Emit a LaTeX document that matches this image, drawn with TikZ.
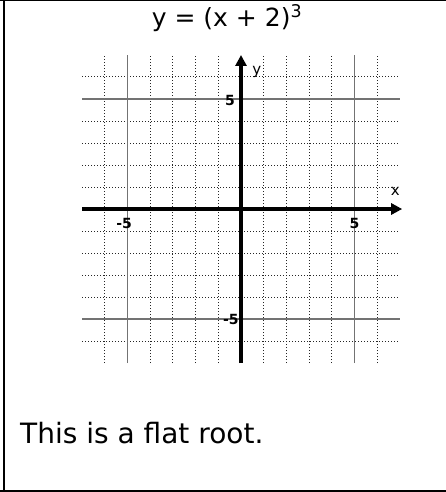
\documentclass[tikz,border=0pt]{standalone}
\usepackage{fontspec}
\setmainfont{DejaVu Sans}
\usetikzlibrary{arrows.meta}
\tikzset{
  frameline/.style={line width=2pt,black},
  minorgrid/.style={line width=1pt,black!85,dotted},
  majorgrid/.style={line width=1.5pt,black!55},
  axisline/.style={line width=3.5pt,black,-{Triangle[length=11pt,width=11pt]}},
  ticklab/.style={font=\fontsize{14}{16}\selectfont\bfseries,inner sep=0pt},
}
\begin{document}
\begin{tikzpicture}[x=1pt,y=-1pt]
\useasboundingbox (0,0) rectangle (446,492);
% frame
\draw[line width=1pt] (0,0.5) -- (446,0.5);
\draw[frameline] (4,0) -- (4,492);
\draw[frameline] (0,491) -- (446,491);
% title
\node[anchor=base,inner sep=0pt,font=\fontsize{25}{30}\selectfont] (title) at (227,27) {y = (x + 2)\textsuperscript{3}};
% grid
\begin{scope}[shift={(241,209)},x=22.7pt,y=22pt]
  \foreach \i in {-6,-4,-3,-2,-1,1,2,3,4,6}{
    \draw[minorgrid] (\i,-7) -- (\i,7);
    \draw[minorgrid] (-7,\i) -- (7,\i);
  }
  \foreach \i in {-5,5}{
    \draw[majorgrid] (\i,-7) -- (\i,7);
    \draw[majorgrid] (-7,\i) -- (7,\i);
  }
  \coordinate (xs) at (-7,0);
  \coordinate (xe) at (7.1,0);
  \coordinate (ys) at (0,-7);
  \coordinate (ye) at (0,7);
  \draw[axisline] (xs) -- (xe);
  \draw[axisline] (ys) -- (ye);
  \node[ticklab] (xm5) at (-5.15,-0.68) {-5};
  \node[ticklab] (xp5) at (5.0,-0.65) {5};
  \node[ticklab] (yp5) at (-0.48,4.95) {5};
  \node[ticklab] (ym5) at (-0.45,-5.0) {-5};
  \node[ticklab,font=\fontsize{15}{17}\selectfont] (xl) at (6.8,0.8) {x};
  \node[ticklab,font=\fontsize{15}{17}\selectfont] (yl) at (0.7,6.25) {y};
\end{scope}
% caption
\node[anchor=base west,inner sep=0pt,font=\fontsize{28}{34}\selectfont] (cap) at (20,443) {This is a flat root.};
\end{tikzpicture}
\end{document}
